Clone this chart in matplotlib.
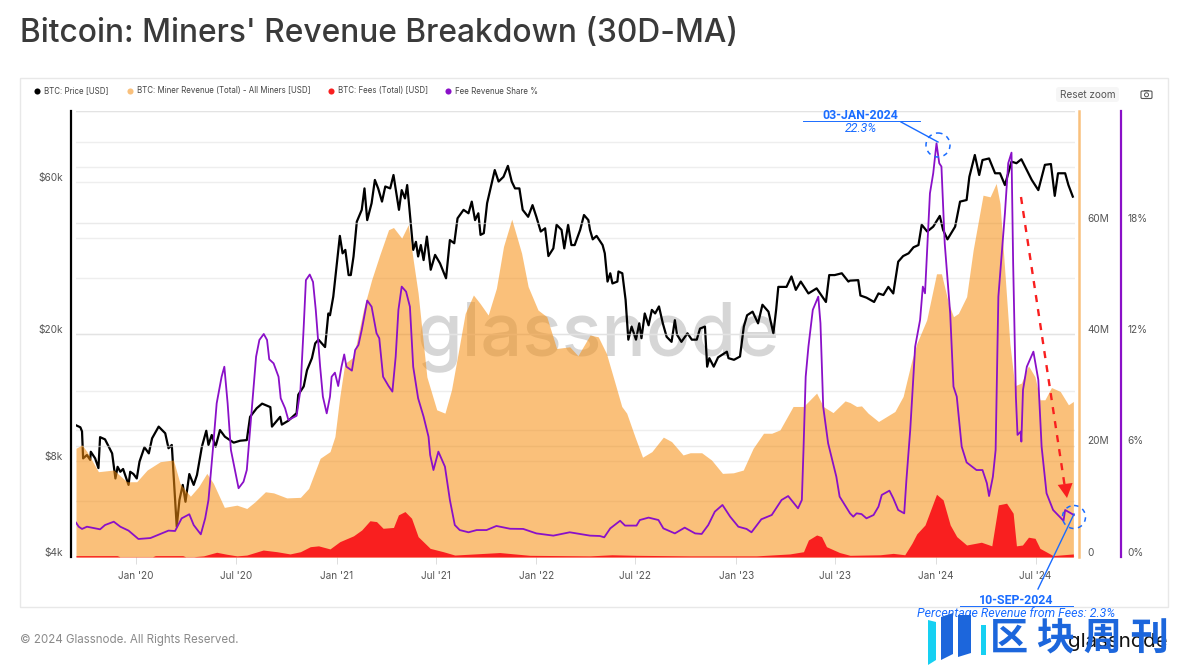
import pandas as pd
import matplotlib
matplotlib.use("Agg")
import matplotlib.pyplot as plt
from matplotlib.patches import Circle, FancyBboxPatch, Polygon, Rectangle
from matplotlib.ticker import NullLocator
from matplotlib.transforms import ScaledTranslation

# values, days counted from 2020-01-01
price_day = [-110,-102,-99,-97,-90,-84,-83,-75,-69,-66,-57,-44,-38,-34,-29,-24,-14,-11,-5,1,6,15,23,29,41,53,59,65,74,79,85,90,97,105,111,120,128,132,138,145,153,162,178,190,202,208,220,230,245,248,263,266,278,293,296,306,312,321,327,333,345,351,
             354,360,366,372,377,382,388,392,397,403,412,417,422,430,436,442,449,455,464,470,480,485,491,495,499,506,511,515,520,525,531,538,546,555,566,573,581,587,598,607,613,619,625,629,635,641,655,662,671,679,686,692,700,706,716,724,731,739,747,753,762,768,777,782,789,795,801,811,818,826,
             829,834,841,852,856,861,866,870,879,881,888,894,899,905,913,919,923,929,936,942,948,955,962,969,978,984,988,996,1007,1015,1024,1030,1039,1043,1047,1055,1063,1079,1082,1092,1103,1110,1116,1126,1136,1144,1155,1164,1169,1173,1188,1197,1205,1214,1228,1243,1260,1266,1276,1289,1301,
             1304,1319,1323,1334,1348,1356,1365,1374,1383,1392,1401,1411,1420,1429,1435,1445,1456,1468,1474,1482,1496,1505,1517,1522,1532,1540,1546,1558,1569,1578,1587,1599,1608,1617,1636,1648,1660,1671,1678,1684,1697,1703,1711]
price_k = [10.35,10.2,9.9,8.15,8.35,8.06,8.55,8.15,7.6,9.5,9.35,8.45,7.05,7.67,7.4,7.55,6.73,7.4,7.28,7.05,7.96,8.83,8.45,9.42,10.25,9.77,8.77,8.98,4.98,6.04,6.73,5.96,7.28,6.73,7.23,8.87,9.95,8.98,9.65,8.87,10.0,9.53,9.13,9.26,9.3,11.0,11.7,12.1,11.8,10.25,11,10.4,10.7,11.3,12.9,13.7,15.4,16.8,18.7,19.2,18.2,23.2,
           22.9,26.2,32.5,40.6,35.8,36.7,30.6,30.6,35,45,49,57.2,45.5,51.4,60.8,57.2,52,58,57.2,63,49,56.5,53.2,58.6,49.6,36.7,38.9,35,38,34.1,40.4,31.8,35.4,33.3,29.9,39.4,38.5,46.1,49,47.8,52,45.5,47.8,40.9,41.4,51.4,65.3,60.1,62.2,67.3,60.1,57.2,57.2,49,46.6,50.7,46.6,41.9,42.9,35.1,37.1,44,42.4,37.1,44,38,38,42.4,47.2,45.5,
           42.4,39.6,40.6,38,35.8,29.2,31,28.8,29.2,31.4,31,25.6,19.2,21.1,19.2,21.6,19.4,23.2,21.3,23.8,23.2,24.4,21.6,19.6,18.9,22.1,19.9,18.9,20.1,19.2,19.2,20.8,21.1,15.8,16.8,15.8,16.9,17.6,16.8,16.6,17,21.1,22.9,23.5,21.6,24.7,23.5,20.1,23.8,28.1,28.1,30.3,27.5,29.2,26.8,27.8,25.2,30.6,30.6,31,29.2,
           29.4,29.5,26.4,26,25.2,26.8,26.5,28.1,26.8,33.7,35.1,35.8,37.4,38,44,41.9,43.4,46.9,42.4,39.6,43.4,52,52.6,62.2,72.8,63,70.2,71,63.8,63.8,58.6,69.4,68.6,70.6,60.8,56.5,67.8,68.2,54.2,63.8,63.8,58.6,53.9]

revenue_day = [-110,-99,-90,-69,-41,-17,1,20,44,68,80,99,114,129,141,161,184,202,217,236,251,275,300,315,336,
               354,363,372,381,397,415,430,445,461,470,485,497,506,515,531,549,564,576,588,601,616,628,643,658,671,686,704,716,734,750,768,792,807,
               829,844,859,875,887,896,911,925,942,963,978,999,1012,1033,1051,1071,1091,1109,1127,1146,1161,1176,1200,1219,1243,1255,1273,1295,
               1304,1316,1325,1337,1356,1371,1386,1401,1417,1426,1444,1462,1471,1484,1493,1502,1517,1529,1547,1560,1571,1578,1587,1596,1605,1617,1630,1642,1651,1660,1672,1688,1703,1712]
revenue_m = [19.5,20.1,18.9,15.3,15.6,13.5,13.5,15.6,17.1,17.4,13.2,10.9,12.6,15,13.2,8.9,9.3,8.7,9.9,11.7,11.5,10.6,10.7,12.3,17.7,
             18.9,21.6,28.8,34.7,35.9,44.3,49.7,54.2,58.7,59.1,57.2,59.6,53.3,47.3,32.3,26.4,25.8,30,36.5,43.7,47,45.5,43.4,48.2,55.7,60.6,54.5,48.5,44.3,43.1,37.4,37.7,36.1,
             39.8,39.5,36.5,31.1,27,25.8,21.6,17.9,18.9,21.5,20.7,18.3,18.7,18.7,17.4,15,15.1,15.6,19.5,22.2,22.2,22.8,27,27,29.4,27,25.9,28,
             27.7,27,27.1,25.8,24.3,25.2,26.1,28.8,35.3,38.3,42.5,50.8,50.8,45.5,43.1,43.7,46.7,55.1,64.9,64.6,67,63.4,50.9,38.3,30.7,31.2,34.3,32.3,28.2,28.2,30.4,29.7,27.3,27.9]

fees_day = [-110,-35,-30,30,35,85,90,105,123,147,165,184,202,232,257,281,300,318,333,
            354,372,397,412,427,439,451,470,479,491,503,515,537,561,582,664,719,
            829,869,914,1012,1133,1194,1219,1228,1243,1252,1261,1285,
            1304,1359,1383,1404,1417,1426,1441,1462,1474,1487,1499,1517,1544,1563,1575,1590,1602,1608,1619,1630,1642,1651,1675,1712]
fees_m = [.25,.25,.05,.05,.25,.25,.05,.05,.2,.85,.5,.2,.35,1.25,.95,.55,.95,1.85,2,
          1.45,2.75,3.8,4.85,6.5,6.35,5.15,5.3,7.55,8.15,6.95,3.65,1.55,.95,.35,.8,.3,
          .2,.4,.3,.2,.2,.55,.95,3.05,3.95,3.65,1.85,.8,
          .3,.4,.65,.4,2.45,4.15,5.75,11.25,10.25,5.75,3.65,2.15,2.65,2,9.35,9.65,7.85,2,2.15,3.55,3.35,1.55,.25,.55]

share_day = [-110,-105,-99,-90,-75,-66,-57,-41,-29,-14,4,26,44,59,71,83,97,105,118,126,132,140,147,156,161,167,173,187,196,202,211,219,225,233,239,243,251,260,264,272,278,293,300,306,310,317,323,328,336,341,348,
             354,357,363,369,375,380,384,394,400,406,412,422,430,439,444,451,461,468,474,479,485,493,500,506,515,525,534,537,543,552,564,573,582,591,607,622,640,658,683,707,731,762,792,
             829,847,855,866,884,893,914,920,936,954,963,984,1002,1021,1033,1045,1057,1071,1085,1100,1115,1124,1142,1161,1179,1191,1209,1216,1219,1223,1228,1236,1246,1250,1255,1264,1279,1285,
             1304,1310,1316,1325,1334,1347,1356,1362,1376,1383,1392,1403,1407,1414,1423,1432,1437,1441,1450,1456,1462,1467,1471,1477,1487,1493,1499,1508,1517,1535,1546,1554,1558,1565,1570,1575,1587,1593,1599,1602,1607,1610,1616,1617,1620,1627,1639,1648,1654,1663,1675,1694,1697,1713]
share_pct = [1.85,1.63,1.51,1.63,1.54,1.49,1.72,1.9,1.63,1.42,.97,1.02,1.24,1.42,1.4,2.08,2.3,1.72,1.22,2.08,3.07,5.76,8.27,9.7,10.24,8.27,5.76,3.7,4.05,4.68,7.91,10.78,11.68,12,11.68,10.64,10.42,9.7,8.54,8,7.37,7.6,8.99,12.4,14.9,15.2,14.8,13.3,10.24,8.63,7.73,
             8.63,9.7,9.92,9.2,10.24,10.9,10.24,10.03,11.14,11.41,12.22,13.8,13.47,12.04,11.77,9.7,9.2,8.9,10.78,13.3,14.55,14.28,13.47,10.24,8.54,7.55,6.47,5.49,4.68,5.67,4.86,3.07,1.72,1.45,1.33,1.45,1.45,1.67,1.52,1.51,1.27,1.15,1.33,
             1.15,1.13,1.06,1.54,1.95,1.69,1.69,1.99,2.12,1.99,1.54,1.27,1.58,1.27,1.24,1.72,2.44,2.8,2.17,1.63,1.51,1.33,2.03,2.26,3.07,3.28,2.62,3.07,5.76,9.7,11.32,13.3,14.01,12.58,8.09,6.12,4.32,3.25,
             2.35,2.17,2.35,2.31,2.08,2.26,2.71,3.34,3.57,3.16,2.53,2.35,4.14,6.84,11.32,12.76,14.55,14.19,19.57,20.65,22.26,21.19,21.01,16.88,13.11,9.17,8.63,5.94,5.09,4.68,4.68,3.97,3.28,4.32,5.76,14.01,18.5,21.19,21.76,15.81,8.63,6.57,6.75,6.21,8.99,10.24,11.05,9.53,5.94,3.43,2.53,1.95,2.53,2.26]

month_ticks = ["2020-01-01","2020-07-01","2021-01-01","2021-07-01","2022-01-01","2022-07-01","2023-01-01","2023-07-01","2024-01-01","2024-07-01"]
month_labels = ["Jan '20","Jul '20","Jan '21","Jul '21","Jan '22","Jul '22","Jan '23","Jul '23","Jan '24","Jul '24"]
price_ticks = [4000,6000,8000,10000,13300,20000,30000,40000,60000,66800,80000,100000]
price_labels = ["$4k","","$8k","","","$20k","","","$60k","","",""]
revenue_ticks = [0,20e6,40e6,60e6,80e6]
revenue_labels = ["0","20M","40M","60M",""]
share_ticks = [0,6,12,18,24]
share_labels = ["0%","6%","12%","18%",""]
legend_labels = ["BTC: Price [USD]","BTC: Miner Revenue (Total) - All Miners [USD]","BTC: Fees (Total) [USD]","Fee Revenue Share %"]

BLACK, ORANGE, RED, PURPLE = "#000000", "#f68d0e", "#f91f1f", "#8a10c8"
SOFT_ORANGE = "#f9c07c"
BLUE = "#1a6cff"
W, H = 1198, 672
plt.rcParams['font.family'] = ['Inter', 'DejaVu Sans']

def dates(days):
    return pd.Timestamp("2020-01-01") + pd.to_timedelta(days, unit="D")

fig = plt.figure(figsize=(W/100, H/100), dpi=100, facecolor="white")
rect = [76/W, 1-557/H, (1075-76)/W, (557-111)/H]
ax = fig.add_axes(rect, zorder=2)
ax_rev = ax.twinx()
ax_rev.set_zorder(3)
ax_share = ax.twinx()
ax_share.set_zorder(4)
for a in (ax, ax_rev, ax_share):
    a.patch.set_visible(False)
    for s in a.spines.values():
        s.set_visible(False)

# price axis, log scale
ax.plot(dates(price_day), [p*1000 for p in price_k], color=BLACK, lw=1.6, solid_joinstyle="round")
ax.set_yscale("log")
ax.set_ylim(4000, 100000)
ax.set_yticks(price_ticks)
ax.set_yticklabels(price_labels)
ax.yaxis.set_minor_locator(NullLocator())
ax.grid(axis="y", color="#eeeeee", lw=1)
ax.set_axisbelow(True)
ax.spines["left"].set_visible(True)
ax.spines["left"].set_position(("outward", 3.6))
ax.spines["left"].set_linewidth(1.6)
ax.tick_params(axis="y", length=0, pad=5.8, labelsize=7.3, labelcolor="#555555")
ax.set_xlim(dates(-110), dates(1715))
ax.set_xticks(pd.to_datetime(month_ticks))
ax.set_xticklabels(month_labels)
ax.tick_params(axis="x", length=5, width=0.7, color="#dddddd", pad=5, labelsize=7.2, labelcolor="#555555")

# revenue and fees
ax_rev.fill_between(dates(revenue_day), [v*1e6 for v in revenue_m], color=ORANGE, alpha=0.55, lw=0, zorder=2)
ax_rev.fill_between(dates(fees_day), [v*1e6 for v in fees_m], color=RED, lw=0, zorder=3)
ax_rev.set_ylim(0, 80e6)
ax_rev.set_yticks(revenue_ticks)
ax_rev.set_yticklabels(revenue_labels)
ax_rev.grid(axis="y", color="#dcdcdc", lw=1, alpha=0.6)
ax_rev.set_axisbelow(True)
ax_rev.spines["right"].set_visible(True)
ax_rev.spines["right"].set_position(("outward", 3))
ax_rev.spines["right"].set_color(SOFT_ORANGE)
ax_rev.spines["right"].set_linewidth(1.8)
ax_rev.tick_params(axis="y", length=0, pad=5.8, labelsize=7.3, labelcolor="#555555")

# fee share
ax_share.plot(dates(share_day), share_pct, color=PURPLE, lw=1.3, solid_joinstyle="round")
ax_share.set_ylim(0, 24)
ax_share.set_yticks(share_ticks)
ax_share.set_yticklabels(share_labels)
ax_share.spines["right"].set_visible(True)
ax_share.spines["right"].set_position(("outward", 33))
ax_share.spines["right"].set_color(PURPLE)
ax_share.spines["right"].set_linewidth(1.6)
ax_share.tick_params(axis="y", length=0, pad=5, labelsize=7.3, labelcolor="#555555")

# tick labels sit a little above their gridline
lift = ScaledTranslation(0, 5/100, fig.dpi_scale_trans)
for a in (ax, ax_rev, ax_share):
    for lab in a.get_yticklabels():
        lab.set_transform(lab.get_transform() + lift)

# watermark goes under the orange
fig.text(598/W, 1-355/H, "glassnode", fontsize=53, color="#d6d6d6", ha="center", va="baseline", zorder=1, family="Inter", weight="medium")

# everything else in pixel positions on a full figure overlay
ov = fig.add_axes([0, 0, 1, 1], zorder=10)
ov.set_xlim(0, W)
ov.set_ylim(H, 0)
ov.axis("off")
ov.patch.set_visible(False)

ov.text(20, 33, "Bitcoin: Miners' Revenue Breakdown (30D-MA)", fontsize=22.85, color="#3a3a3a", va="center", weight="medium")
ov.add_patch(Rectangle((19.5, 78), 1148, 529, fill=False, ec="#e8e8e8", lw=1))

legend_x = [37, 130, 331, 448]
legend_c = [BLACK, SOFT_ORANGE, "#f91f1f", PURPLE]
for x, c, t in zip(legend_x, legend_c, legend_labels):
    ov.plot([x], [91], "o", ms=4.4, color=c, mew=0)
    ov.text(x+7, 91, t, fontsize=5.7, color="#444444", va="center")

ov.add_patch(FancyBboxPatch((1056, 87), 63, 15, boxstyle="round,pad=0,rounding_size=3", fc="#f6f6f6", ec="none"))
ov.text(1087.5, 94.5, "Reset zoom", fontsize=7.2, color="#555555", ha="center", va="center")
# camera icon
ov.add_patch(FancyBboxPatch((1141, 91), 11, 7.5, boxstyle="round,pad=0,rounding_size=1.2", fc="none", ec="#555555", lw=0.8))
ov.add_patch(Rectangle((1144, 89.5), 5, 1.5, fc="#555555", ec="none"))
ov.add_patch(Circle((1146.5, 94.8), 2, fc="none", ec="#555555", lw=0.7))

ov.text(20, 640, "© 2024 Glassnode. All Rights Reserved.", fontsize=8.3, color="#8a8a8a", va="center")
ov.text(1118, 642, "glassnode", fontsize=14.8, color="#111111", ha="center", va="center", zorder=3)

# callouts
ov.text(860, 115.5, "03-JAN-2024", fontsize=8.9, weight="bold", color=BLUE, ha="center", va="center", family="Roboto")
ov.plot([803, 920], [121, 121], color=BLUE, lw=0.7)
ov.text(861, 129, "22.3%", fontsize=8.9, style="italic", color=BLUE, ha="center", va="center", family="Roboto")
ov.plot([901, 938], [122, 142], color=BLUE, lw=1)
ov.add_patch(Circle((938, 145), 12, fill=False, ec=BLUE, lw=1.1, ls=(0, (3, 3))))

ov.text(1016, 600, "10-SEP-2024", fontsize=8.9, weight="bold", color=BLUE, ha="center", va="center", family="Roboto")
ov.plot([960, 1073], [606, 606], color=BLUE, lw=0.7)
ov.text(1016, 613.5, "Percentage Revenue from Fees: 2.3%", fontsize=8.9, style="italic", color=BLUE, ha="center", va="center", family="Roboto", zorder=4)
ov.plot([1038, 1074], [589, 514], color=BLUE, lw=1)
ov.add_patch(Circle((1074, 517), 11.5, fill=False, ec=BLUE, lw=1.1, ls=(0, (3, 3))))

# red dashed arrow
ov.plot([1021, 1065], [197, 488], color="#f91f1f", lw=1.7, ls=(0, (3, 3)))
ov.annotate("", xy=(1067, 498), xytext=(1065.4, 486), arrowprops=dict(arrowstyle="-|>,head_width=0.45,head_length=0.85", color="#f91f1f", lw=0, shrinkA=0, shrinkB=0, mutation_scale=12))

# publisher logo on top of the corner
ov.add_patch(Polygon([(928, 620), (936, 622), (936, 660), (928, 665)], fc="#16d0f2", ec="none", zorder=5))
ov.add_patch(Polygon([(941, 617), (953, 613), (953, 654), (941, 660)], fc="#1c66dc", ec="none", zorder=5))
ov.add_patch(Polygon([(958, 615), (971, 615), (971, 653), (958, 657)], fc="#1c66dc", ec="none", zorder=5))
ov.add_patch(Rectangle((981, 625), 5, 30, fc="#16d0f2", ec="none", zorder=5))
ov.text(1079, 638.5, "区 块 周 刊", fontsize=27.5, weight="bold", color="#1c66dc", ha="center", va="center", family=["Noto Sans CJK SC", "DejaVu Sans"], zorder=5)

fig.savefig("out.png", dpi=100)
